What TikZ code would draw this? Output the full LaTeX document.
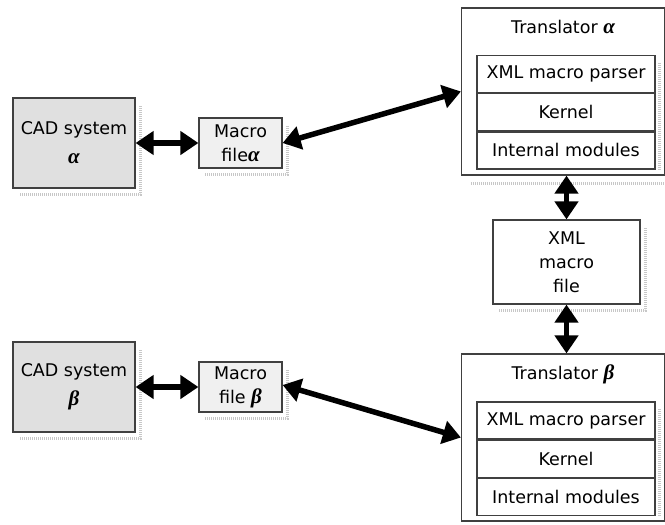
\documentclass[tikz,border=0pt]{standalone}
\usepackage{fontspec}
\setmainfont{DejaVu Sans}
\newfontfamily\grkfont[Scale=1.2]{Liberation Serif}
\usetikzlibrary{arrows.meta}
\newcommand\ga{{\grkfont\bfseries\itshape α}}
\newcommand\gb{{\grkfont\bfseries\itshape β}}
% dotted drop shade along the right and bottom sides of a node
\newcommand\dropshade[1]{%
  \draw[shadeline] ([shift={(5,9)}]#1.north east) -- ([shift={(5,6)}]#1.south east)
    -- ([shift={(7,6)}]#1.south west);}
\tikzset{
  x=1pt, y=-1pt,
  box/.style={draw=black!75, line width=1.2pt, inner sep=0pt, align=center,
    font=\fontsize{17.5}{24}\selectfont},
  cadbox/.style={box, fill=black!12, minimum width=122pt, minimum height=90pt},
  macbox/.style={box, fill=black!6, minimum width=83pt, minimum height=50pt},
  trbox/.style={box, fill=white, minimum width=203pt, minimum height=167pt},
  rowbox/.style={box, fill=white, minimum width=178pt, minimum height=37pt},
  txt/.style={inner sep=0pt, font=\fontsize{17.5}{24}\selectfont},
  shadeline/.style={draw=black!22, line width=3pt, dash pattern=on 1pt off 1pt},
  link/.style={line width=5.5pt, {Triangle[length=18pt,width=23pt]}-{Triangle[length=18pt,width=23pt]}}
}
\begin{document}
\begin{tikzpicture}
\useasboundingbox (0,0) rectangle (665,525);

% CAD systems and macro files
\node[cadbox] (cada) at (74,143) {CAD system\\[5pt]\ga};
\node[macbox] (mfa) at (240.5,143) {Macro\\file\ga};
\node[cadbox] (cadb) at (74,387) {CAD system\\[5pt]\gb};
\node[macbox] (mfb) at (240.5,387) {Macro\\file \gb};

% translator alpha
\node[trbox] (ta) at (563,91.5) {};
\node[txt] (tat) at (563,27) {Translator \ga};
\node[rowbox] (tap) at (566,74) {XML macro parser};
\node[rowbox, anchor=north] (tak) at (tap.south) {Kernel};
\node[rowbox, anchor=north] (tam) at (tak.south) {Internal modules};

% shared XML macro file
\node[box, fill=white, minimum width=147pt, minimum height=84pt] (xml) at (566.5,262) {XML\\macro\\file};

% translator beta
\node[trbox] (tb) at (563,437.5) {};
\node[txt] (tbt) at (563,374) {Translator \gb};
\node[rowbox] (tbp) at (566,420.5) {XML macro parser};
\node[rowbox, anchor=north] (tbk) at (tbp.south) {Kernel};
\node[rowbox, anchor=north] (tbm) at (tbk.south) {Internal modules};

% drop shades
\dropshade{cada}
\dropshade{mfa}
\dropshade{cadb}
\dropshade{mfb}
\dropshade{xml}
\draw[shadeline] ([shift={(4,8)}]tap.north east) -- ([shift={(4,0)}]tam.south east);
\draw[shadeline] ([shift={(10,8)}]ta.south west) -- ([shift={(0,8)}]ta.south east);
\draw[shadeline] ([shift={(4,8)}]tbp.north east) -- ([shift={(4,0)}]tbm.south east);

% connectors
\draw[link] (cada.east) -- (mfa.west);
\draw[link] (mfa.east) -- (ta.west);
\draw[link] (ta.south -| xml.north) -- (xml.north);
\draw[link] (xml.south) -- (tb.north -| xml.south);
\draw[link] (cadb.east) -- (mfb.west);
\draw[link] ([yshift=2]mfb.east) -- (tb.west);
\end{tikzpicture}
\end{document}
